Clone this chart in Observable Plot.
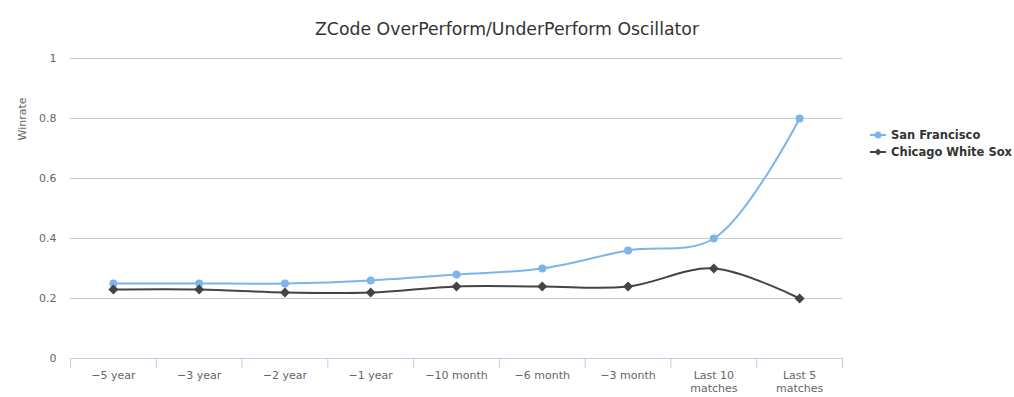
<!DOCTYPE html>
<html>
<head>
<meta charset="utf-8">
<script src="https://cdn.jsdelivr.net/npm/d3@7"></script>
<script src="https://cdn.jsdelivr.net/npm/@observablehq/plot@0.6"></script>
<style>
  body { margin: 0; background: #fff; font-family: "DejaVu Sans", Verdana, sans-serif; }
  #wrap { position: relative; width: 1014px; height: 397px; overflow: hidden; }
  #title { position: absolute; left: 0; top: 19px; width: 1014px; text-align: center; font-size: 17.3px; color: #333; }
  #ylabel { position: absolute; left: 22px; top: 119px; transform: translate(-50%, -50%) rotate(-90deg); font-size: 11px; color: #666; white-space: nowrap; }
  #legend { position: absolute; left: 870px; top: 126px; font-size: 11.5px; font-weight: bold; color: #333; }
  .li { display: flex; align-items: center; height: 17px; }
  .li svg { margin-right: 5px; }
</style>
</head>
<body>
<div id="wrap">
  <div id="chart"></div>
  <div id="title">ZCode OverPerform/UnderPerform Oscillator</div>
  <div id="ylabel">Winrate</div>
  <div id="legend"></div>
</div>
<script>
const categories = ["−5 year", "−3 year", "−2 year", "−1 year", "−10 month", "−6 month", "−3 month", "Last 10\nmatches", "Last 5\nmatches"];
const sanFrancisco = [0.25, 0.25, 0.25, 0.26, 0.28, 0.30, 0.36, 0.40, 0.80];
const chicagoWhiteSox = [0.23, 0.23, 0.22, 0.22, 0.24, 0.24, 0.24, 0.30, 0.20];
const seriesNames = ["San Francisco", "Chicago White Sox"];
const seriesColors = ["#7cb5ec", "#434348"];
const yTicks = [0, 0.2, 0.4, 0.6, 0.8, 1];

const sf = categories.map((c, i) => ({i, v: sanFrancisco[i]}));
const cws = categories.map((c, i) => ({i, v: chicagoWhiteSox[i]}));
const bounds = d3.range(categories.length + 1).map(k => k - 0.5);

const plot = Plot.plot({
  width: 1014,
  height: 397,
  marginLeft: 70,
  marginRight: 172,
  marginTop: 58,
  marginBottom: 39,
  style: {fontFamily: "DejaVu Sans, Verdana, sans-serif", fontSize: "11px", color: "#666", background: "#fff"},
  x: {type: "linear", domain: [-0.5, categories.length - 0.5]},
  y: {domain: [0, 1]},
  marks: [
    Plot.ruleY(yTicks.filter(d => d > 0), {stroke: "#c8c8c8", strokeWidth: 1}),
    Plot.ruleY([0], {stroke: "#c0d0e0", strokeWidth: 1}),
    Plot.ruleX(bounds, {y1: 0, y2: -0.034, stroke: "#c0d0e0", strokeWidth: 1}),
    Plot.axisY({ticks: yTicks, tickFormat: d => String(d), tickSize: 0, tickPadding: 14, label: null, fill: "#666", fontSize: 11}),
    Plot.axisX({ticks: d3.range(categories.length), tickFormat: i => categories[i], tickSize: 0, tickPadding: 11, label: null, fill: "#666", fontSize: 11, lineHeight: 1.2}),
    Plot.line(sf, {x: "i", y: "v", stroke: seriesColors[0], strokeWidth: 2, curve: "catmull-rom"}),
    Plot.line(cws, {x: "i", y: "v", stroke: seriesColors[1], strokeWidth: 2, curve: "catmull-rom"}),
    Plot.dot(sf, {x: "i", y: "v", fill: seriesColors[0], r: 4, symbol: "circle"}),
    Plot.dot(cws, {x: "i", y: "v", fill: seriesColors[1], r: 4.5, symbol: "diamond2"})
  ]
});
document.getElementById("chart").appendChild(plot);

const legend = document.getElementById("legend");
seriesNames.forEach((name, k) => {
  const row = document.createElement("div");
  row.className = "li";
  const marker = k === 0
    ? `<circle cx="8" cy="6" r="3.5" fill="${seriesColors[k]}"/>`
    : `<path d="M8,2.5 L11.5,6 L8,9.5 L4.5,6 Z" fill="${seriesColors[k]}"/>`;
  row.innerHTML = `<svg width="16" height="12"><line x1="0" y1="6" x2="16" y2="6" stroke="${seriesColors[k]}" stroke-width="2"/>${marker}</svg><span>${name}</span>`;
  legend.appendChild(row);
});
</script>
</body>
</html>
